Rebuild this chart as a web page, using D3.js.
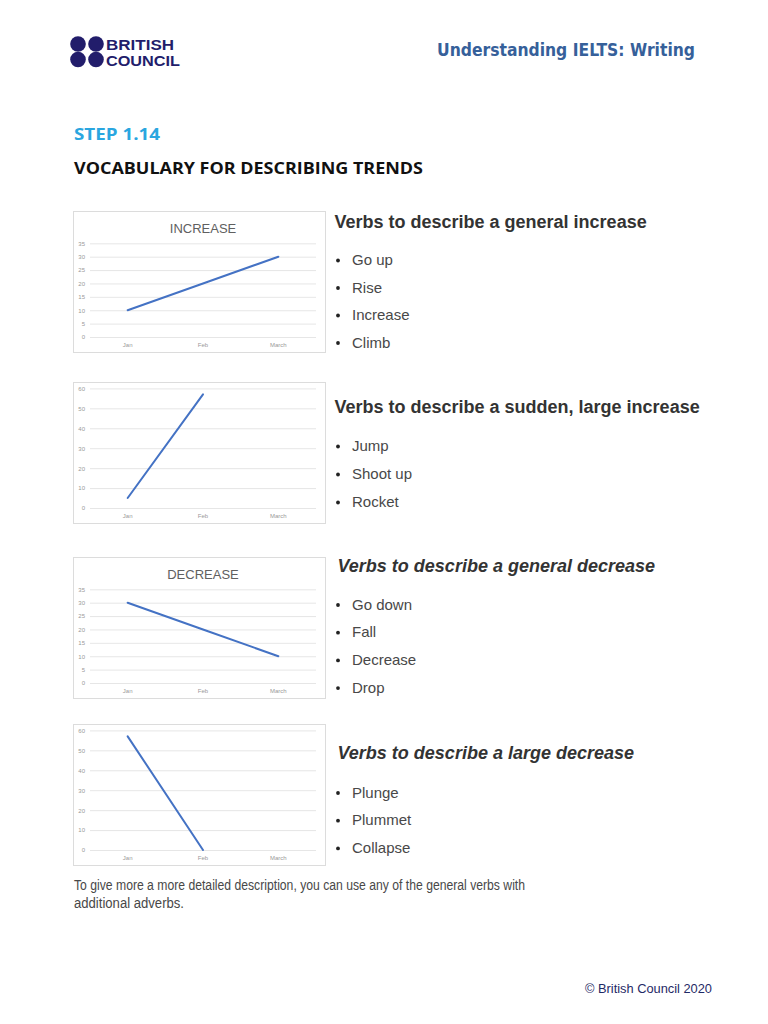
<!DOCTYPE html>
<html>
<head>
<meta charset="utf-8">
<script src="https://cdn.jsdelivr.net/npm/d3@7"></script>
<style>
  body { margin: 0; background: #fff; }
  svg { display: block; }
</style>
</head>
<body>
<div id="page"></div>
<script>
// chart data
const months = ["Jan", "Feb", "March"];
const increaseValues = [10, 20, 30];
const jumpValues = [5, 57];          // Jan, Feb only
const decreaseValues = [30, 20, 10];
const plungeValues = [57, 0];        // Jan, Feb only
const ticks35 = [0, 5, 10, 15, 20, 25, 30, 35];
const ticks60 = [0, 10, 20, 30, 40, 50, 60];

// text data
const chartTitles = ["INCREASE", "", "DECREASE", ""];
const headings = [
  "Verbs to describe a general increase",
  "Verbs to describe a sudden, large increase",
  "Verbs to describe a general decrease",
  "Verbs to describe a large decrease"
];
const increaseVerbs = ["Go up", "Rise", "Increase", "Climb"];
const largeIncreaseVerbs = ["Jump", "Shoot up", "Rocket"];
const decreaseVerbs = ["Go down", "Fall", "Decrease", "Drop"];
const largeDecreaseVerbs = ["Plunge", "Plummet", "Collapse"];

function createPage() {
  const width = 768, height = 1024;
  const svg = d3.select("#page")
    .append("svg")
    .attr("width", width)
    .attr("height", height);

  const navy = "#221d6b";

  // logo - four dots + name
  const dots = [[78, 44], [96, 44], [78, 59.5], [96, 59.5]];
  svg.selectAll("circle.logo")
    .data(dots)
    .enter()
    .append("circle")
      .attr("class", "logo")
      .attr("cx", d => d[0])
      .attr("cy", d => d[1])
      .attr("r", 7.8)
      .attr("fill", navy);
  // kept at 14px so the two lines' boxes don't collide
  svg.append("text")
    .attr("x", 106).attr("y", 50)
    .attr("textLength", 68).attr("lengthAdjust", "spacingAndGlyphs")
    .style("font", "bold 14px 'Liberation Sans', Arial, sans-serif")
    .attr("fill", navy)
    .text("BRITISH");
  svg.append("text")
    .attr("x", 106).attr("y", 65.8)
    .attr("textLength", 74).attr("lengthAdjust", "spacingAndGlyphs")
    .style("font", "bold 14px 'Liberation Sans', Arial, sans-serif")
    .attr("fill", navy)
    .text("COUNCIL");

  svg.append("text")
    .attr("x", 437).attr("y", 56)
    .attr("textLength", 258).attr("lengthAdjust", "spacingAndGlyphs")
    .style("font", "bold 17px 'DejaVu Sans', sans-serif")
    .attr("fill", "#36609a")
    .text("Understanding IELTS: Writing");

  svg.append("text")
    .attr("x", 74).attr("y", 140)
    .attr("textLength", 86).attr("lengthAdjust", "spacingAndGlyphs")
    .style("font", "bold 16px 'Open Sans', sans-serif")
    .attr("fill", "#2aa6e0")
    .text("STEP 1.14");
  svg.append("text")
    .attr("x", 74).attr("y", 173.5)
    .attr("textLength", 349).attr("lengthAdjust", "spacingAndGlyphs")
    .style("font", "bold 16px 'Open Sans', sans-serif")
    .attr("fill", "#111")
    .text("VOCABULARY FOR DESCRIBING TRENDS");

  // the four small excel-like charts
  const charts = [
    {top: 211, values: increaseValues, ticks: ticks35, title: chartTitles[0]},
    {top: 382, values: jumpValues, ticks: ticks60, title: chartTitles[1]},
    {top: 557, values: decreaseValues, ticks: ticks35, title: chartTitles[2]},
    {top: 724, values: plungeValues, ticks: ticks60, title: chartTitles[3]}
  ];
  charts.forEach(c => drawTrendChart(svg, c));

  // verb lists on the right
  const blocks = [
    {y: 227.5, italic: false, items: increaseVerbs, first: 265, step: 27.5},
    {y: 413, italic: false, items: largeIncreaseVerbs, first: 451, step: 28},
    {y: 572, italic: true, items: decreaseVerbs, first: 609.5, step: 27.7},
    {y: 759, italic: true, items: largeDecreaseVerbs, first: 797.5, step: 27.7}
  ];
  blocks.forEach((b, i) => {
    svg.append("text")
      .attr("x", b.italic ? 337.5 : 334.5)
      .attr("y", b.y)
      .style("font", (b.italic ? "italic " : "") + "bold 18px 'Liberation Sans', Arial, sans-serif")
      .attr("fill", "#333")
      .text(headings[i]);

    const g = svg.append("g");
    g.selectAll("circle")
      .data(b.items)
      .enter()
      .append("circle")
        .attr("cx", 338)
        .attr("cy", (d, j) => b.first + j * b.step - 4.5)
        .attr("r", 1.9)
        .attr("fill", "#222");
    g.selectAll("text")
      .data(b.items)
      .enter()
      .append("text")
        .attr("x", 352)
        .attr("y", (d, j) => b.first + j * b.step)
        .style("font", "15px 'Liberation Sans', Arial, sans-serif")
        .attr("fill", "#484848")
        .text(d => d);
  });

  // closing paragraph
  svg.append("text")
    .attr("x", 74).attr("y", 890)
    .attr("textLength", 451).attr("lengthAdjust", "spacingAndGlyphs")
    .style("font", "14px 'Liberation Sans', Arial, sans-serif")
    .attr("fill", "#484848")
    .text("To give more a more detailed description, you can use any of the general verbs with");
  svg.append("text")
    .attr("x", 74).attr("y", 907.5)
    .attr("textLength", 110).attr("lengthAdjust", "spacingAndGlyphs")
    .style("font", "14px 'Liberation Sans', Arial, sans-serif")
    .attr("fill", "#484848")
    .text("additional adverbs.");

  // footer
  svg.append("text")
    .attr("x", 712).attr("y", 992.5)
    .attr("text-anchor", "end")
    .attr("textLength", 127).attr("lengthAdjust", "spacingAndGlyphs")
    .style("font", "12px 'Liberation Sans', Arial, sans-serif")
    .attr("fill", "#1f2a66")
    .text("\u00A9 British Council 2020");
}

function drawTrendChart(svg, c) {
  const boxLeft = 73, boxWidth = 252, boxHeight = 141;
  const plotLeft = 90, plotRight = 316;
  const hasTitle = c.title !== "";
  const gridTop = c.top + (hasTitle ? 32.3 : 6.4);
  const gridBottom = c.top + 126;

  const g = svg.append("g");

  g.append("rect")
    .attr("x", boxLeft + 0.5)
    .attr("y", c.top + 0.5)
    .attr("width", boxWidth)
    .attr("height", boxHeight)
    .attr("fill", "#fff")
    .attr("stroke", "#dcdcdc");

  if (hasTitle) {
    g.append("text")
      .attr("x", 203)
      .attr("y", c.top + 21.5)
      .attr("text-anchor", "middle")
      .style("font", "13px 'Liberation Sans', Arial, sans-serif")
      .attr("fill", "#606060")
      .text(c.title);
  }

  const x = d3.scaleBand()
    .domain(months)
    .range([plotLeft, plotRight])
    .padding(0);

  const y = d3.scaleLinear()
    .domain([0, d3.max(c.ticks)])
    .range([gridBottom, gridTop]);

  // y axis doubles as gridlines
  const yAxis = g.append("g")
    .attr("transform", `translate(${plotLeft},0)`)
    .call(d3.axisLeft(y).tickValues(c.ticks).tickSize(-(plotRight - plotLeft)).tickPadding(5));
  yAxis.select(".domain").remove();
  yAxis.selectAll("line").attr("stroke", "#e0e0e0").attr("stroke-width", 0.8);
  yAxis.selectAll("text")
    .style("font-size", "6px")
    .style("font-family", "'Liberation Sans', Arial, sans-serif")
    .attr("fill", "#999");

  const xAxis = g.append("g")
    .attr("transform", `translate(0,${gridBottom})`)
    .call(d3.axisBottom(x).tickSize(0).tickPadding(6));
  xAxis.select(".domain").remove();
  xAxis.selectAll("text")
    .style("font-size", "6px")
    .style("font-family", "'Liberation Sans', Arial, sans-serif")
    .attr("fill", "#999");

  const line = d3.line()
    .x((d, i) => x(months[i]) + x.bandwidth() / 2)
    .y(d => y(d));

  g.append("path")
    .datum(c.values)
    .attr("fill", "none")
    .attr("stroke", "#4472c4")
    .attr("stroke-width", 2)
    .attr("stroke-linecap", "round")
    .attr("d", line);
}

createPage();
</script>
</body>
</html>
